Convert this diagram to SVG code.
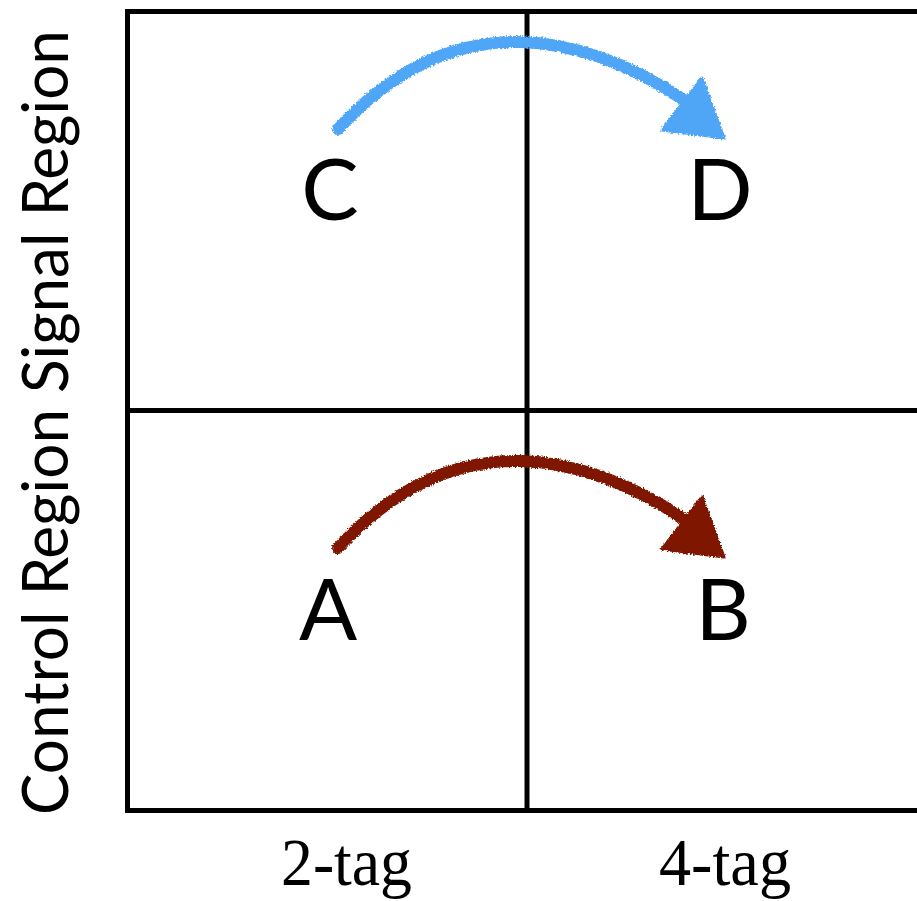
<svg xmlns="http://www.w3.org/2000/svg" width="917" height="901" viewBox="0 0 917 901">
<defs>
<style>
.grid{stroke:#000;stroke-width:5;fill:none}
.lbl{font-family:Lato,"Liberation Sans",sans-serif;font-size:86px;fill:#000;text-anchor:middle}
.axis{font-family:"Liberation Serif",serif;font-size:68px;fill:#000}
.ylab{font-family:Lato,"Liberation Sans",sans-serif;font-size:64px;fill:#000}
</style>
<filter id="rough" x="-10%" y="-30%" width="120%" height="160%">
<feTurbulence type="fractalNoise" baseFrequency="0.6" numOctaves="2" seed="3" result="n"/>
<feDisplacementMap in="SourceGraphic" in2="n" scale="4" xChannelSelector="R" yChannelSelector="G"/>
</filter>
</defs>
<rect width="917" height="901" fill="#fff"/>
<g id="grid">
<path class="grid" d="M920,11.5 H127.5 V810.5 H920"/>
<path class="grid" d="M527,11.5 V810.5"/>
<path class="grid" d="M127.5,410.5 H920"/>
</g>
<g id="ylabel">
<text class="ylab" transform="translate(68,815) rotate(-90)" textLength="785" lengthAdjust="spacingAndGlyphs">Control Region Signal Region</text>
</g>
<g id="xlabels">
<text class="axis" x="281" y="885" textLength="131" lengthAdjust="spacingAndGlyphs">2-tag</text>
<text class="axis" x="659" y="885" textLength="132" lengthAdjust="spacingAndGlyphs">4-tag</text>
</g>
<g id="node-C"><text class="lbl" x="330" y="220">C</text></g>
<g id="node-D"><text class="lbl" x="720" y="220">D</text></g>
<g id="node-A"><text class="lbl" x="328" y="640">A</text></g>
<g id="node-B"><text class="lbl" x="723" y="640">B</text></g>
<g id="connectors" filter="url(#rough)">
<g id="arrow-CD" fill="#4fa6f7" stroke="#4fa6f7">
<path d="M338,129 Q420,40 520,42 Q600,44 684,100" fill="none" stroke-width="12" stroke-linecap="round"/>
<polygon points="702,78 724,138 662,130" stroke-width="3" stroke-linejoin="round"/>
</g>
<g id="arrow-AB" fill="#7f1600" stroke="#7f1600" transform="translate(0,419)">
<path d="M338,129 Q420,40 520,42 Q600,44 684,100" fill="none" stroke-width="12" stroke-linecap="round"/>
<polygon points="702,78 724,138 662,130" stroke-width="3" stroke-linejoin="round"/>
</g>
</g>
</svg>
